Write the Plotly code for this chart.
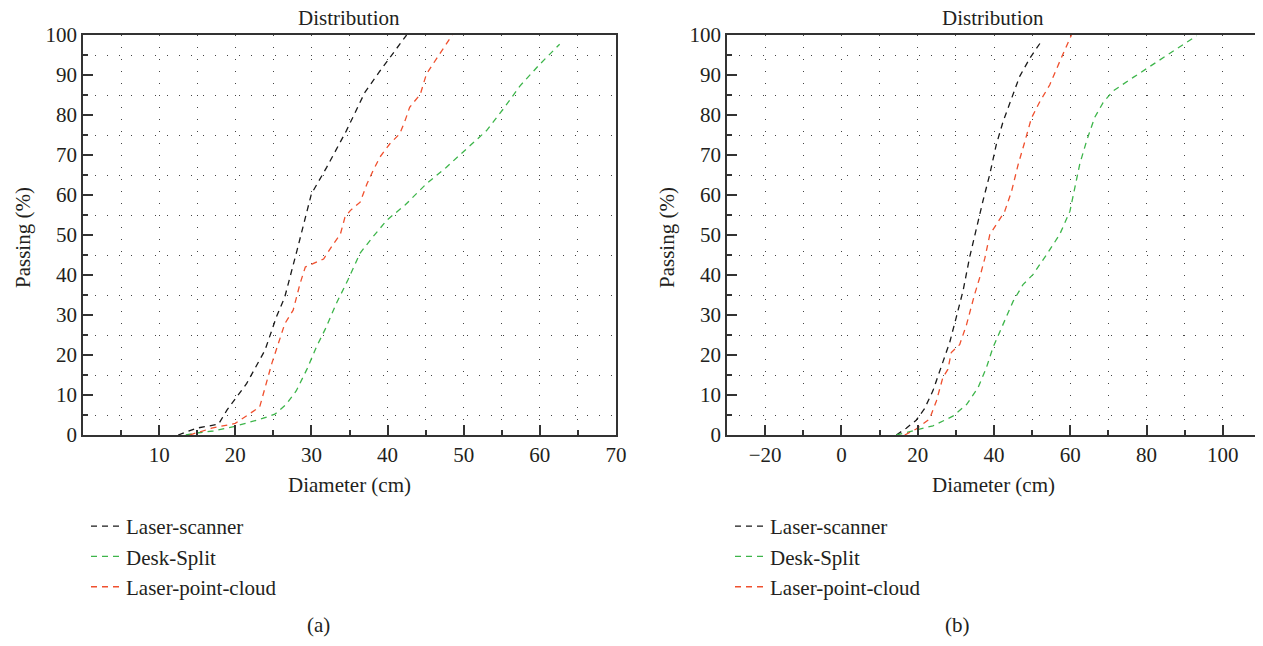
import plotly.graph_objects as go

# ---------------- data (a) ----------------
a_scanner_x = [12.5, 14.9, 17.8, 18.9, 21.5, 23.9, 25.4, 26.5, 28.1, 29.4, 30.0, 32.0, 34.6, 37.0, 39.0, 42.5]
a_scanner_y = [0, 1.7, 2.7, 6.2, 12.9, 21.2, 29.5, 34.5, 46.1, 56.1, 60.3, 66.9, 76.1, 85.6, 91.0, 100]

a_desk_x = [13.5, 14.9, 17.1, 20.0, 23.2, 25.2, 26.7, 28.0, 29.4, 30.7, 31.8, 33.3, 34.8, 36.4, 38.1, 39.9,
            42.3, 45.1, 47.7, 50.3, 53.0, 55.2, 57.4, 60.0, 62.6]
a_desk_y = [0, 0.5, 1.0, 2.2, 3.9, 5.2, 7.7, 11.0, 16.4, 22.2, 26.4, 33.0, 38.8, 45.5, 49.6, 53.7,
            57.5, 62.8, 66.9, 71.5, 76.1, 81.5, 87.3, 92.7, 97.7]

a_cloud_x = [14.0, 16.9, 20.0, 21.9, 23.2, 24.8, 25.4, 26.5, 27.6, 28.5, 29.2, 30.2, 31.6, 32.9, 33.8, 34.4,
             35.1, 36.4, 37.3, 38.1, 39.0, 40.3, 41.6, 42.3, 42.9, 44.3, 45.1, 46.5, 48.5]
a_cloud_y = [0, 1.7, 2.9, 5.4, 7.0, 17.9, 21.2, 27.8, 31.2, 37.8, 42.0, 42.8, 44.0, 47.8, 50.2, 54.4,
             56.1, 58.2, 62.8, 66.1, 69.5, 72.8, 75.3, 78.6, 81.9, 85.2, 90.2, 94.3, 100]

# ---------------- data (b) ----------------
b_scanner_x = [14.4, 17.0, 19.6, 21.8, 24.0, 26.2, 28.4, 30.1, 31.9, 33.6, 35.4, 37.1, 38.9, 40.6, 42.4,
               44.6, 46.7, 49.4, 52.4]
b_scanner_y = [0, 1.7, 3.7, 6.6, 11.1, 16.9, 23.2, 29.4, 36.1, 44.4, 51.9, 58.5, 65.2, 72.6, 78.4,
               84.2, 89.6, 94.2, 98.4]

b_desk_x = [14.4, 19.6, 24.0, 29.2, 32.8, 35.8, 38.0, 39.7, 42.4, 45.0, 47.6, 50.2, 53.8, 57.2, 59.9,
            61.2, 62.5, 64.3, 66.4, 68.6, 71.2, 76.5, 81.7, 87.0, 93.1]
b_desk_y = [0, 1.2, 2.3, 4.7, 7.6, 11.8, 16.8, 21.8, 27.6, 33.4, 37.6, 40.1, 45.1, 50.1, 55.9,
            61.9, 67.8, 73.6, 79.4, 83.1, 86.0, 89.4, 92.7, 96.0, 99.8]

b_cloud_x = [16.6, 19.6, 23.1, 24.9, 26.6, 27.9, 28.8, 31.0, 32.8, 34.1, 34.9, 36.2, 37.6, 38.9, 40.6,
             42.8, 44.6, 46.3, 48.1, 49.8, 52.0, 54.6, 57.2, 60.3]
b_cloud_y = [0, 1.5, 4.0, 8.5, 14.4, 16.4, 20.6, 22.6, 27.6, 32.6, 35.1, 39.2, 44.2, 50.1, 52.6,
             55.9, 60.9, 67.5, 73.4, 79.2, 83.3, 87.5, 93.3, 100]

series_names = ["Laser-scanner", "Desk-Split", "Laser-point-cloud"]
series_colors = ["#1a1a1a", "#3db54a", "#f0502e"]

# page is 1263x646; body has an 8px default margin
PAGE_OFF = 8
FW, FH = 1263 - PAGE_OFF, 646 - 2 * PAGE_OFF
FONT = "Liberation Serif"
FS = 21
TXT = "#231f20"

fig = go.Figure()

panels = [
    ("x", "y", "legend", [(a_scanner_x, a_scanner_y), (a_desk_x, a_desk_y), (a_cloud_x, a_cloud_y)]),
    ("x2", "y2", "legend2", [(b_scanner_x, b_scanner_y), (b_desk_x, b_desk_y), (b_cloud_x, b_cloud_y)]),
]
for xa, ya, lg, data in panels:
    for (xs, ys), name, col in zip(data, series_names, series_colors):
        fig.add_trace(go.Scatter(x=xs, y=ys, mode="lines", name=name, xaxis=xa, yaxis=ya, legend=lg,
                                 line=dict(color=col, width=1.3, dash="6px,5px")))


def px_x(p):
    return (p - PAGE_OFF) / FW


def px_y(p):
    return 1 - (p - PAGE_OFF) / FH


grid_dash = "1px,11px"
grid_col = "#444"

common_axis = dict(showline=True, linecolor="#333", linewidth=1.5, mirror=True, automargin=False,
                   ticks="inside", ticklen=10, tickwidth=1.5, tickcolor="#333",
                   tickfont=dict(family=FONT, size=FS, color=TXT), zeroline=False)


def minor(dt):
    return dict(dtick=dt, tick0=0, ticks="inside", ticklen=5, tickwidth=1.5, tickcolor="#333",
                showgrid=True, gridcolor=grid_col, griddash=grid_dash, gridwidth=1)


ydom = [px_y(435), px_y(35)]

legend_style = dict(xanchor="left", yanchor="top", font=dict(family=FONT, size=FS, color=TXT),
                    bgcolor="rgba(0,0,0,0)", itemwidth=30)

ann_font = dict(family=FONT, size=FS, color=TXT)


def ann(text, x, y, angle=0):
    return dict(text=text, x=px_x(x), y=px_y(y), xref="paper", yref="paper", showarrow=False,
                xanchor="center", yanchor="middle", textangle=angle, font=ann_font)


fig.update_layout(
    width=FW, height=FH, margin=dict(l=0, r=0, t=0, b=0, pad=0, autoexpand=False),
    paper_bgcolor="white", plot_bgcolor="white",
    font=dict(family=FONT, size=FS, color=TXT),
    xaxis=dict(domain=[px_x(83), px_x(616)], range=[0, 70], anchor="y",
               tickvals=[10, 20, 30, 40, 50, 60, 70],
               showgrid=True, gridcolor=grid_col, griddash=grid_dash, gridwidth=1,
               minor=minor(5), **common_axis),
    yaxis=dict(domain=ydom, range=[0, 100], anchor="x", dtick=10, tick0=0, showgrid=False,
               minor=minor(5), **common_axis),
    xaxis2=dict(domain=[px_x(727), px_x(1261)], range=[-30, 110], anchor="y2",
                dtick=20, tick0=0,
                showgrid=True, gridcolor=grid_col, griddash=grid_dash, gridwidth=1,
                minor=minor(10), **common_axis),
    yaxis2=dict(domain=ydom, range=[0, 100], anchor="x2", dtick=10, tick0=0, showgrid=False,
                minor=minor(5), **common_axis),
    legend=dict(x=px_x(86), y=px_y(506), **legend_style),
    legend2=dict(x=px_x(730), y=px_y(506), **legend_style),
    annotations=[
        ann("Distribution", 349, 18),
        ann("Distribution", 993, 18),
        ann("Diameter (cm)", 349, 485),
        ann("Diameter (cm)", 993, 485),
        ann("Passing (%)", 23, 238, -90),
        ann("Passing (%)", 667, 238, -90),
        ann("(a)", 318, 625),
        ann("(b)", 957, 625),
    ],
)

fig.write_html("out.html")
